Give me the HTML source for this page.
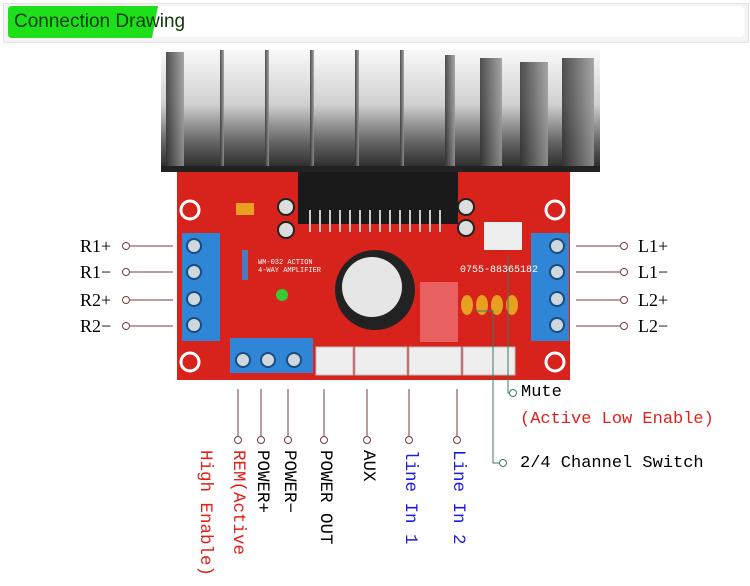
<!DOCTYPE html>
<html><head><meta charset="utf-8"><style>
body{margin:0;width:750px;height:586px;background:#fff;position:relative;overflow:hidden;font-family:"Liberation Serif",serif}
.t{position:absolute;font-size:18px;line-height:18px;color:#000;white-space:nowrap}
.v{position:absolute;writing-mode:vertical-rl;font-size:17.5px;line-height:18px;white-space:nowrap;font-family:"Liberation Mono",monospace}
</style></head><body>
<div style="position:absolute;left:3px;top:3px;width:744px;height:38px;background:#f4f4f4;border:1px solid #e2e2e2"></div>
<div style="position:absolute;left:8px;top:6px;width:736px;height:31px;background:#fff;border-radius:4px"></div>
<svg style="position:absolute;left:0;top:0" width="750" height="586">
<path d="M12 6 Q8 6 8 10 V34 Q8 38 12 38 H152 L158 6 H12Z" fill="#1ee01a"/>
</svg>
<div class="t" style="left:14px;top:13px;font-family:'Liberation Sans',sans-serif;font-size:19px;color:#0a3a0a">Connection Drawing</div>
<svg style="position:absolute;left:0;top:0" width="750" height="586">
<defs>
<linearGradient id="hs" x1="0" y1="0" x2="0" y2="1"><stop offset="0" stop-color="#fafafa"/><stop offset="0.45" stop-color="#d0d0d0"/><stop offset="0.75" stop-color="#666"/><stop offset="1" stop-color="#222"/></linearGradient>
<linearGradient id="fin" x1="0" y1="0" x2="1" y2="0"><stop offset="0" stop-color="#333"/><stop offset="1" stop-color="#999"/></linearGradient>
</defs>
<rect x="177" y="170" width="393" height="210" fill="#d8231c"/>
<g fill="none" stroke="#fff" stroke-width="3">
<circle cx="190" cy="210" r="9"/><circle cx="555" cy="210" r="9"/><circle cx="190" cy="362" r="9"/><circle cx="555" cy="362" r="9"/>
</g>
<rect x="161" y="49" width="439" height="123" fill="url(#hs)"/>
<g fill="url(#fin)" opacity="0.85">
<rect x="166" y="52" width="18" height="118"/><rect x="220" y="50" width="4" height="120"/><rect x="265" y="50" width="4" height="120"/>
<rect x="310" y="50" width="4" height="120"/><rect x="355" y="50" width="4" height="120"/><rect x="400" y="50" width="4" height="120"/>
<rect x="445" y="55" width="10" height="115"/><rect x="480" y="58" width="22" height="112"/><rect x="520" y="62" width="28" height="108"/><rect x="562" y="58" width="32" height="112"/>
</g>
<rect x="161" y="166" width="439" height="6" fill="#222"/>
<rect x="298" y="172" width="160" height="52" fill="#1a1a1a"/>
<g stroke="#ccc" stroke-width="2"><line x1="310" y1="210" x2="310" y2="232"/><line x1="320" y1="210" x2="320" y2="232"/><line x1="330" y1="210" x2="330" y2="232"/><line x1="340" y1="210" x2="340" y2="232"/><line x1="350" y1="210" x2="350" y2="232"/><line x1="360" y1="210" x2="360" y2="232"/><line x1="370" y1="210" x2="370" y2="232"/><line x1="380" y1="210" x2="380" y2="232"/><line x1="390" y1="210" x2="390" y2="232"/><line x1="400" y1="210" x2="400" y2="232"/><line x1="410" y1="210" x2="410" y2="232"/><line x1="420" y1="210" x2="420" y2="232"/><line x1="430" y1="210" x2="430" y2="232"/><line x1="440" y1="210" x2="440" y2="232"/></g>
<circle cx="286" cy="207" r="8" fill="#ddd" stroke="#222" stroke-width="2"/><circle cx="286" cy="230" r="8" fill="#ddd" stroke="#222" stroke-width="2"/>
<circle cx="466" cy="207" r="8" fill="#ddd" stroke="#222" stroke-width="2"/><circle cx="466" cy="228" r="8" fill="#ddd" stroke="#222" stroke-width="2"/>
<rect x="236" y="203" width="18" height="12" fill="#e8a020"/>
<rect x="242" y="250" width="6" height="30" fill="#4a7ac0"/>
<circle cx="375" cy="290" r="40" fill="#222"/><circle cx="372" cy="287" r="30" fill="#e6e6e6"/>
<circle cx="282" cy="295" r="6" fill="#3c3"/>
<rect x="484" y="222" width="38" height="28" fill="#eee"/>
<rect x="420" y="282" width="38" height="60" fill="#e86060"/>
<g fill="#e8a020"><ellipse cx="467" cy="305" rx="6" ry="10"/><ellipse cx="482" cy="305" rx="6" ry="10"/><ellipse cx="497" cy="305" rx="6" ry="10"/><ellipse cx="512" cy="305" rx="6" ry="10"/></g>
<rect x="182" y="233" width="38" height="108" fill="#2f86d6"/>
<rect x="531" y="233" width="38" height="108" fill="#2f86d6"/>
<rect x="230" y="338" width="83" height="35" fill="#2f86d6"/>
<g fill="#cfd8de" stroke="#1a4c80" stroke-width="2">
<circle cx="194" cy="246" r="7"/><circle cx="194" cy="272" r="7"/><circle cx="194" cy="299" r="7"/><circle cx="194" cy="325" r="7"/>
<circle cx="557" cy="246" r="7"/><circle cx="557" cy="272" r="7"/><circle cx="557" cy="299" r="7"/><circle cx="557" cy="325" r="7"/>
<circle cx="243" cy="360" r="7"/><circle cx="268" cy="360" r="7"/><circle cx="294" cy="360" r="7"/>
</g>
<g fill="#eee" stroke="#bbb"><rect x="316" y="347" width="37" height="28"/><rect x="355" y="347" width="52" height="28"/><rect x="409" y="347" width="52" height="28"/><rect x="463" y="347" width="52" height="28"/></g>
<text x="460" y="272" font-family="Liberation Mono" font-size="10" fill="#fff">0755-88365182</text>
<text x="258" y="264" font-family="Liberation Mono" font-size="7" fill="#fff">WM-032 ACTION</text>
<text x="258" y="272" font-family="Liberation Mono" font-size="7" fill="#fff">4-WAY AMPLIFIER</text>
<g stroke="#7a3a3a" stroke-width="1" fill="#fff">
<line x1="130" y1="246" x2="173" y2="246"/><line x1="130" y1="272" x2="173" y2="272"/><line x1="130" y1="300" x2="173" y2="300"/><line x1="130" y1="326" x2="173" y2="326"/>
<circle cx="126" cy="246" r="3.5"/><circle cx="126" cy="272" r="3.5"/><circle cx="126" cy="300" r="3.5"/><circle cx="126" cy="326" r="3.5"/>
<line x1="576" y1="246" x2="620" y2="246"/><line x1="576" y1="272" x2="620" y2="272"/><line x1="576" y1="300" x2="620" y2="300"/><line x1="576" y1="326" x2="620" y2="326"/>
<circle cx="624" cy="246" r="3.5"/><circle cx="624" cy="272" r="3.5"/><circle cx="624" cy="300" r="3.5"/><circle cx="624" cy="326" r="3.5"/>
<line x1="238" y1="389" x2="238" y2="436"/><line x1="261" y1="389" x2="261" y2="436"/><line x1="288" y1="389" x2="288" y2="436"/><line x1="324" y1="389" x2="324" y2="436"/><line x1="367" y1="389" x2="367" y2="436"/><line x1="409" y1="389" x2="409" y2="436"/><line x1="457" y1="389" x2="457" y2="436"/>
<circle cx="238" cy="440" r="3.5"/><circle cx="261" cy="440" r="3.5"/><circle cx="288" cy="440" r="3.5"/><circle cx="324" cy="440" r="3.5"/><circle cx="367" cy="440" r="3.5"/><circle cx="409" cy="440" r="3.5"/><circle cx="457" cy="440" r="3.5"/>
</g>
<g stroke="#3a7a6a" stroke-width="1" fill="none">
<polyline points="508,255 508,393 509,393"/>
<polyline points="474,311 493,311 493,463 499,463"/>
<circle cx="513" cy="393" r="3.5" fill="#fff"/><circle cx="503" cy="463" r="3.5" fill="#fff"/>
</g>
</svg>
<div class="t" style="left:80px;top:237px">R1+</div>
<div class="t" style="left:80px;top:263px">R1−</div>
<div class="t" style="left:80px;top:291px">R2+</div>
<div class="t" style="left:80px;top:317px">R2−</div>
<div class="t" style="left:638px;top:237px">L1+</div>
<div class="t" style="left:638px;top:263px">L1−</div>
<div class="t" style="left:638px;top:291px">L2+</div>
<div class="t" style="left:638px;top:317px">L2−</div>
<div class="t" style="left:521px;top:384px;font-family:'Liberation Mono',monospace;font-size:17px">Mute</div>
<div class="t" style="left:520px;top:411px;font-family:'Liberation Mono',monospace;font-size:17px;color:#e0201a">(Active Low Enable)</div>
<div class="t" style="left:520px;top:455px;font-family:'Liberation Mono',monospace;font-size:17px">2/4 Channel Switch</div>
<div class="v" style="left:229px;top:450px;color:#e0201a">REM(Active</div>
<div class="v" style="left:196px;top:450px;color:#e0201a">High Enable)</div>
<div class="v" style="left:253px;top:450px">POWER+</div>
<div class="v" style="left:280px;top:450px">POWER−</div>
<div class="v" style="left:316px;top:450px">POWER OUT</div>
<div class="v" style="left:359px;top:450px">AUX</div>
<div class="v" style="left:401px;top:450px;color:#1a1ae0">line In 1</div>
<div class="v" style="left:449px;top:450px;color:#1a1ae0">Line In 2</div>
</body></html>
